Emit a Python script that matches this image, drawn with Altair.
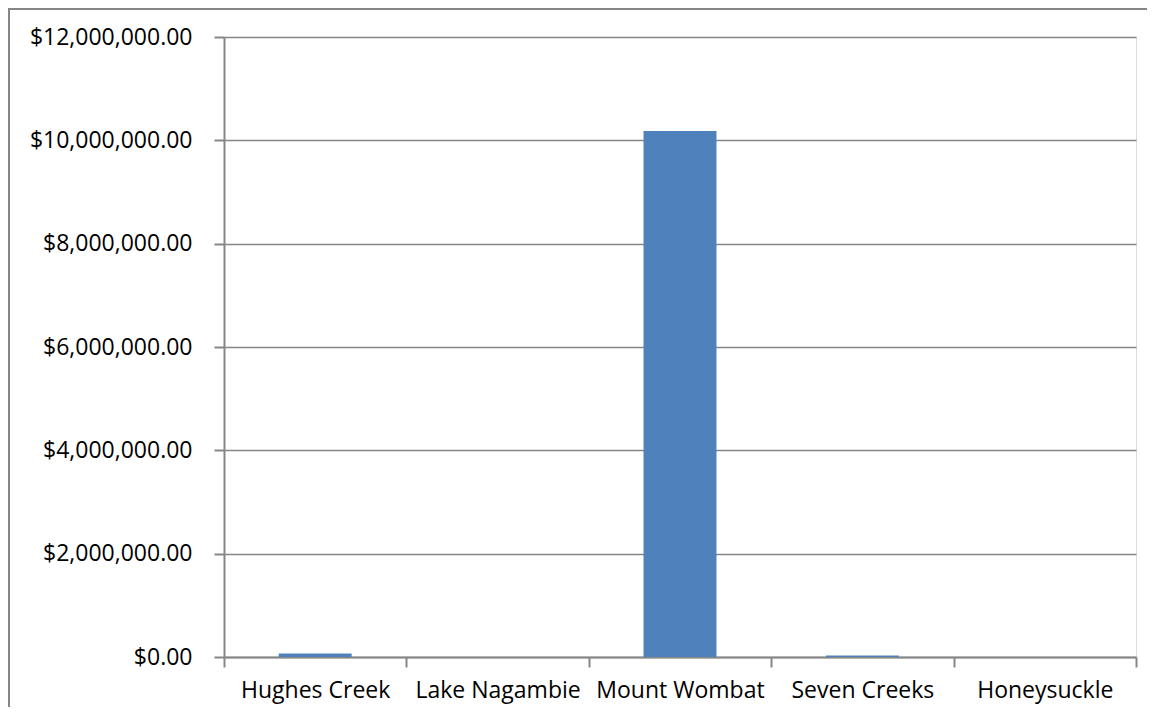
import altair as alt
import pandas as pd

# Data
sites = ["Hughes Creek", "Lake Nagambie", "Mount Wombat", "Seven Creeks", "Honeysuckle"]
amounts = [68000, 0, 10180000, 30000, 0]
y_ticks = [0, 2000000, 4000000, 6000000, 8000000, 10000000, 12000000]

df = pd.DataFrame({"site": sites, "amount": amounts})

W, H = 912, 620
GRAY = "#868686"
FONT = "Open Sans"
FS = 23

border = alt.Chart(alt.Data(values=[{"a": 1}])).mark_rect(
    fillOpacity=0, stroke=GRAY, strokeWidth=2
).encode(
    x=alt.value(-215), y=alt.value(-28),
    x2=alt.value(W + 300), y2=alt.value(H + 300)
)

bars = alt.Chart(df).mark_bar(
    color="#4F81BD", width=alt.RelativeBandSize(0.4)
).encode(
    x=alt.X("site:N", sort=sites, title=None,
            scale=alt.Scale(paddingInner=0, paddingOuter=0),
            axis=alt.Axis(labelAngle=0, tickBand="extent", tickSize=10,
                          tickColor=GRAY, tickWidth=2, domainColor=GRAY,
                          domainWidth=2, labelFont=FONT, labelFontSize=FS,
                          labelColor="black", labelPadding=12, grid=False,
                          labelOverlap=False)),
    y=alt.Y("amount:Q", title=None,
            scale=alt.Scale(domain=[0, 12000000], nice=False),
            axis=alt.Axis(values=y_ticks, format="$,.2f", tickSize=10,
                          tickColor=GRAY, tickWidth=2, domainColor=GRAY,
                          domainWidth=2, gridColor=GRAY, gridWidth=1.5,
                          labelFont=FONT, labelFontSize=FS, labelColor="black",
                          labelPadding=22)),
)

chart = alt.layer(border, bars).properties(
    width=W, height=H,
    autosize=alt.AutoSizeParams(type="none"),
    padding={"left": 216, "top": 29, "right": 11, "bottom": 50},
).configure_view(stroke=None).configure(background="white")

chart.save("out.html", embed_options={"renderer": "svg", "actions": False})
